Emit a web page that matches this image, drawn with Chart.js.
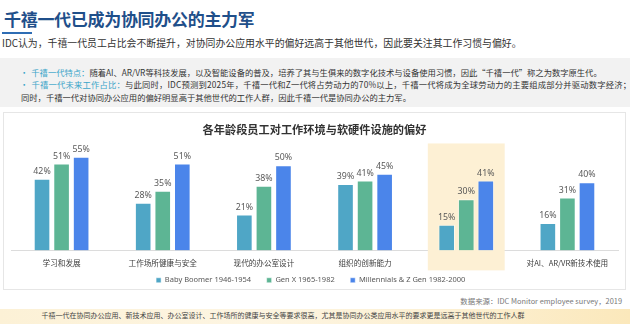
<!DOCTYPE html>
<html>
<head>
<meta charset="utf-8">
<script src="https://cdn.jsdelivr.net/npm/chart.js@4"></script>
<style>
  body { margin: 0; width: 630px; height: 324px; background: #fff; overflow: hidden; position: relative;
         font-family: "Noto Sans CJK SC", "Noto Sans", sans-serif; color: #333; }
  .t { position: absolute; white-space: nowrap; }
  #title { left: 4px; top: 6px; font-size: 17px; font-weight: bold; color: #1f4f8a; letter-spacing: -0.3px; }
  #uline { position: absolute; left: 2px; top: 32px; width: 30px; height: 2px; background: #2e6db4; }
  #sub { left: 2px; top: 35.5px; font-size: 9.9px; color: #333; }
  #box { position: absolute; left: 0; top: 58px; width: 630px; height: 49px; background: #f2f2f2; }
  .b { font-size: 8.3px; color: #333; left: 20px; }
  .b .k { color: #3aa5c9; }
  .b .dot { color: #3aa5c9; margin-right: 3px; }
  #panel { position: absolute; left: 3px; top: 112px; width: 621px; height: 176px; border: 1px solid #e6e6e6; background: #fff; }
  #wrap { position: absolute; left: 3px; top: 112px; width: 623px; height: 182px; }
  #src { right: 8px; top: 295px; font-size: 7.4px; color: #777; }
  #foot { position: absolute; left: 0; top: 309px; width: 630px; height: 15px;
          background: linear-gradient(90deg, #fcf1d6 0%, #fdf5e2 40%, #fcefd0 75%, #fbe8bb 100%); }
  #foottxt { left: 0; width: 566px; text-align: center; top: 310px; font-size: 7px; color: #444; }
</style>
</head>
<body>
<div class="t" id="title">千禧一代已成为协同办公的主力军</div>
<div id="uline"></div>
<div class="t" id="sub">IDC认为，千禧一代员工占比会不断提升，对协同办公应用水平的偏好远高于其他世代，因此要关注其工作习惯与偏好。</div>
<div id="box"></div>
<div class="t b" style="top:66px"><span class="dot">•</span><span class="k">千禧一代特点：</span>随着AI、AR/VR等科技发展，以及智能设备的普及，培养了其与生俱来的数字化技术与设备使用习惯，因此“千禧一代”称之为数字原生代。</div>
<div class="t b" style="top:78px; letter-spacing:0.2px"><span class="dot">•</span><span class="k">千禧一代未来工作占比：</span>与此同时，IDC预测到2025年，千禧一代和Z一代将占劳动力的70%以上，千禧一代将成为全球劳动力的主要组成部分并驱动数字经济；</div>
<div class="t b" style="top:91px; left:21px">同时，千禧一代对协同办公应用的偏好明显高于其他世代的工作人群，因此千禧一代是协同办公的主力军。</div>
<div id="panel"></div>
<div id="wrap"><canvas id="grafico"></canvas></div>
<div class="t" id="src">数据来源：IDC Monitor employee survey，2019</div>
<div id="foot"></div>
<div class="t" id="foottxt">千禧一代在协同办公应用、新技术应用、办公室设计、工作场所的健康与安全等要求很高，尤其是协同办公类应用水平的要求更是远高于其他世代的工作人群</div>

<script>
const categorias = ['学习和发展', '工作场所健康与安全', '现代的办公室设计', '组织的创新能力', '协同办公应用水平', '对AI、AR/VR新技术使用'];
const series = ['Baby Boomer 1946-1954', 'Gen X 1965-1982', 'Millennials & Z Gen 1982-2000'];
const babyBoomer = [42, 28, 21, 39, 15, 16];
const genX = [51, 35, 38, 41, 30, 31];
const millennials = [55, 51, 50, 45, 41, 40];
const colores = ['#4fa6c6', '#5db594', '#4b85ea'];
const destacado = 4;

// fondo amarillo detras de la categoria destacada
const fondo = {
  id: 'fondo',
  beforeDatasetsDraw(chart) {
    const { ctx, scales: { x }, chartArea } = chart;
    const cx = x.getPixelForValue(destacado);
    const w = (x.width / categorias.length) * 0.76;
    ctx.save();
    ctx.fillStyle = '#fdf0d4';
    ctx.fillRect(cx - w / 2, chartArea.top - 3, w, chartArea.bottom - chartArea.top + 23);
    ctx.restore();
  }
};

// etiquetas de porcentaje
const etiquetas = {
  id: 'etiquetas',
  afterDatasetsDraw(chart) {
    const ctx = chart.ctx;
    ctx.save();
    ctx.font = '8.8px "Noto Sans", sans-serif';
    ctx.fillStyle = '#595959';
    ctx.textAlign = 'center';
    ctx.textBaseline = 'bottom';
    chart.data.datasets.forEach((ds, i) => {
      chart.getDatasetMeta(i).data.forEach((bar, j) => {
        ctx.fillText(ds.data[j] + '%', bar.x, bar.y - 3);
      });
    });
    ctx.restore();
  }
};

const ctx = document.getElementById('grafico').getContext('2d');
new Chart(ctx, {
  type: 'bar',
  data: {
    labels: categorias,
    datasets: [babyBoomer, genX, millennials].map((d, i) => ({
      label: series[i],
      data: d,
      backgroundColor: colores[i],
      borderColor: 'rgba(255,255,255,0.5)',
      borderWidth: 1,
      barPercentage: 0.85,
      categoryPercentage: 0.58
    }))
  },
  options: {
    responsive: true,
    maintainAspectRatio: false,
    animation: false,
    layout: { padding: { left: 8, right: 8, top: 0, bottom: 0 } },
    plugins: {
      title: {
        display: true,
        text: '各年龄段员工对工作环境与软硬件设施的偏好',
        color: '#333',
        font: { size: 11.2, weight: 'bold', family: '"Noto Sans CJK SC", sans-serif' },
        padding: { top: 11, bottom: 10 }
      },
      legend: {
        position: 'bottom',
        labels: {
          boxWidth: 5, boxHeight: 5, padding: 8, color: '#595959',
          font: { size: 7.5, family: '"Noto Sans", sans-serif' },
          generateLabels(chart) {
            const items = Chart.defaults.plugins.legend.labels.generateLabels(chart);
            items.forEach(it => { it.text = it.text + '\u2002\u2002'; });
            return items;
          }
        }
      },
      tooltip: { enabled: false }
    },
    scales: {
      y: { display: false, min: 0, max: 61 },
      x: {
        grid: { display: false, drawTicks: true, tickLength: 8 },
        border: { color: '#dcdcdc' },
        ticks: { color: '#404040', font: { size: 7.6, family: '"Noto Sans CJK SC", sans-serif' }, padding: 0.5 }
      }
    }
  },
  plugins: [fondo, etiquetas]
});
</script>
</body>
</html>
